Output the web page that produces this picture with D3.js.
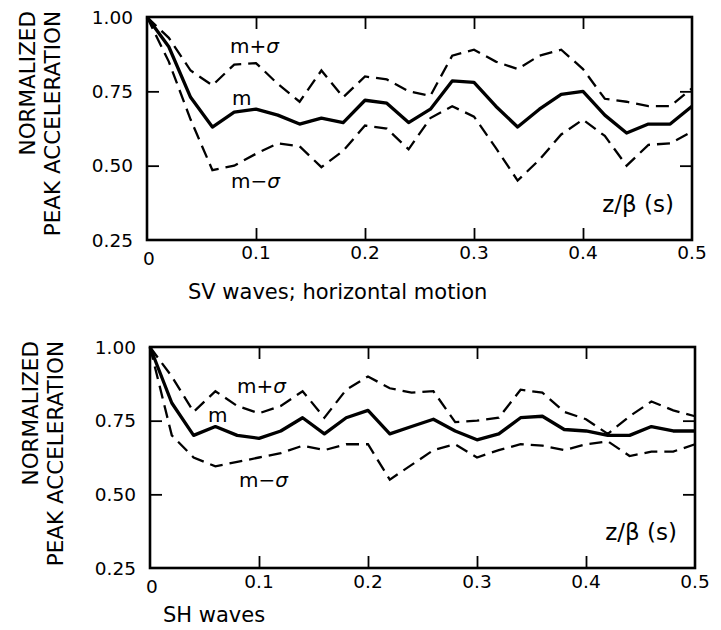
<!DOCTYPE html>
<html>
<head>
<meta charset="utf-8">
<script src="https://cdn.jsdelivr.net/npm/d3@7"></script>
<style>
  body { margin: 0; background: #fff; }
  svg { font-family: "DejaVu Sans", "Liberation Sans", Arial, sans-serif; }
</style>
</head>
<body>
<div id="chart"></div>
<script>
// z/beta values (s), every 0.02 s
const zb = [0, 0.02, 0.04, 0.06, 0.08, 0.10, 0.12, 0.14, 0.16, 0.18, 0.20, 0.22, 0.24,
            0.26, 0.28, 0.30, 0.32, 0.34, 0.36, 0.38, 0.40, 0.42, 0.44, 0.46, 0.48, 0.50];

// SV waves, horizontal motion
const svMean  = [1.00, 0.90, 0.73, 0.63, 0.68, 0.69, 0.67, 0.64, 0.66, 0.645, 0.72, 0.71, 0.645,
                 0.69, 0.785, 0.78, 0.70, 0.63, 0.69, 0.74, 0.75, 0.67, 0.61, 0.64, 0.64, 0.70];
const svPlus  = [1.00, 0.93, 0.82, 0.77, 0.84, 0.845, 0.775, 0.715, 0.82, 0.73, 0.80, 0.79, 0.75,
                 0.735, 0.87, 0.89, 0.85, 0.825, 0.87, 0.89, 0.825, 0.725, 0.715, 0.70, 0.70, 0.76];
const svMinus = [1.00, 0.85, 0.655, 0.485, 0.50, 0.54, 0.575, 0.565, 0.495, 0.55, 0.635, 0.625, 0.555,
                 0.66, 0.70, 0.665, 0.56, 0.45, 0.52, 0.605, 0.655, 0.60, 0.50, 0.57, 0.575, 0.615];

// SH waves
const shMean  = [1.00, 0.81, 0.70, 0.73, 0.70, 0.69, 0.715, 0.76, 0.705, 0.76, 0.785, 0.705, 0.73,
                 0.755, 0.715, 0.685, 0.705, 0.76, 0.765, 0.72, 0.715, 0.70, 0.70, 0.73, 0.715, 0.715];
const shPlus  = [1.00, 0.90, 0.78, 0.85, 0.80, 0.775, 0.80, 0.85, 0.76, 0.855, 0.90, 0.86, 0.845,
                 0.85, 0.745, 0.75, 0.76, 0.855, 0.845, 0.78, 0.755, 0.705, 0.765, 0.815, 0.785, 0.765];
const shMinus = [1.00, 0.70, 0.625, 0.595, 0.61, 0.625, 0.64, 0.665, 0.65, 0.67, 0.67, 0.55, 0.60,
                 0.65, 0.67, 0.625, 0.65, 0.67, 0.665, 0.65, 0.67, 0.68, 0.63, 0.645, 0.645, 0.67];

const yTicks = [1.00, 0.75, 0.50, 0.25];
const xTicks = [0, 0.1, 0.2, 0.3, 0.4, 0.5];

const svg = d3.select('#chart').append('svg')
    .attr('width', 721)
    .attr('height', 630);

function drawPanel(opts) {
    const { left, right, top, bottom, mean, plus, minus, caption, labels } = opts;

    const x = d3.scaleLinear().domain([0, 0.5]).range([left, right]);
    const y = d3.scaleLinear().domain([0.25, 1.0]).range([bottom, top]);

    const g = svg.append('g');

    // curves
    const line = d3.line().x((d, i) => x(zb[i])).y(d => y(d));

    [plus, minus].forEach(s => {
        g.append('path').datum(s)
            .attr('d', line).attr('fill', 'none')
            .attr('stroke', '#000').attr('stroke-width', 2.3)
            .attr('stroke-dasharray', '13,7');
    });
    g.append('path').datum(mean)
        .attr('d', line).attr('fill', 'none')
        .attr('stroke', '#000').attr('stroke-width', 3.3)
        .attr('stroke-linejoin', 'round');

    // frame with inward ticks on all four sides
    const tickLen = 12;
    const inner = xTicks.filter(t => t > 0 && t < 0.5);
    const innerY = yTicks.filter(t => t > 0.25 && t < 1.0);

    g.append('g').attr('transform', `translate(0,${bottom})`)
        .call(d3.axisTop(x).tickValues(inner).tickSize(tickLen).tickFormat(''));
    g.append('g').attr('transform', `translate(0,${top})`)
        .call(d3.axisBottom(x).tickValues(inner).tickSize(tickLen).tickFormat(''));
    g.append('g').attr('transform', `translate(${left},0)`)
        .call(d3.axisRight(y).tickValues(innerY).tickSize(tickLen).tickFormat(''));
    g.append('g').attr('transform', `translate(${right},0)`)
        .call(d3.axisLeft(y).tickValues(innerY).tickSize(tickLen).tickFormat(''));
    g.selectAll('.domain').remove();
    g.selectAll('.tick line').attr('stroke', '#000').attr('stroke-width', 1.8);

    g.append('rect')
        .attr('x', left).attr('y', top)
        .attr('width', right - left).attr('height', bottom - top)
        .attr('fill', 'none').attr('stroke', '#000').attr('stroke-width', 2.6);

    // y tick labels
    g.selectAll('.ylab').data(yTicks).enter().append('text')
        .attr('x', left - 14)
        .attr('y', d => y(d))
        .attr('dy', '0.36em')
        .attr('text-anchor', 'end')
        .attr('font-size', 18.5)
        .text(d => d3.format('.2f')(d));

    // x tick labels
    g.selectAll('.xlab').data(xTicks).enter().append('text')
        .attr('x', d => x(d) + (d === 0 ? 2 : 0))
        .attr('y', d => bottom + (d === 0 ? 25 : opts.xLabDy))
        .attr('text-anchor', 'middle')
        .attr('font-size', 18.5)
        .text(d => d === 0 ? '0' : d3.format('.1f')(d));

    // y axis title, two lines, aligned at the top
    g.append('text')
        .attr('transform', `translate(${left - 112},${top - 6}) rotate(-90)`)
        .attr('text-anchor', 'end')
        .attr('font-size', 21.5)
        .text('NORMALIZED');
    g.append('text')
        .attr('transform', `translate(${left - 87},${top - 6}) rotate(-90)`)
        .attr('text-anchor', 'end')
        .attr('font-size', 21.5)
        .text('PEAK ACCELERATION');

    // z/beta (s) label inside the frame
    g.append('text')
        .attr('x', right - 18)
        .attr('y', bottom - 28)
        .attr('text-anchor', 'end')
        .attr('font-size', 23)
        .text('z/β (s)');

    // curve labels
    labels.forEach(l => {
        const t = g.append('text')
            .attr('x', l.x).attr('y', l.y)
            .attr('font-size', 20);
        t.append('tspan').text(l.base);
        if (l.sign) {
            t.append('tspan').text(l.sign);
            t.append('tspan').attr('font-style', 'italic').text('σ');
        }
    });

    // caption under the x axis
    g.append('text')
        .attr('x', opts.captionX)
        .attr('y', opts.captionY)
        .attr('font-size', 21)
        .text(caption);
}

drawPanel({
    left: 147, right: 692, top: 17, bottom: 240,
    mean: svMean, plus: svPlus, minus: svMinus,
    xLabDy: 19,
    caption: 'SV waves; horizontal motion', captionX: 188, captionY: 299,
    labels: [
        { base: 'm', sign: '+', x: 230, y: 53 },
        { base: 'm', x: 232, y: 105 },
        { base: 'm', sign: '\u2212', x: 231, y: 188 }
    ]
});

drawPanel({
    left: 150, right: 695, top: 347, bottom: 568,
    mean: shMean, plus: shPlus, minus: shMinus,
    xLabDy: 20,
    caption: 'SH waves', captionX: 163, captionY: 622,
    labels: [
        { base: 'm', sign: '+', x: 237, y: 393 },
        { base: 'm', x: 208, y: 422 },
        { base: 'm', sign: '\u2212', x: 239, y: 487 }
    ]
});
</script>
</body>
</html>
